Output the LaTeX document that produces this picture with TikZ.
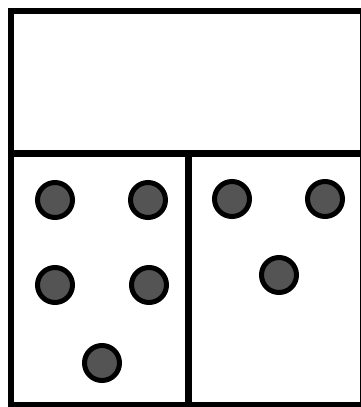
\documentclass[tikz,border=0pt]{standalone}
\definecolor{dotgray}{RGB}{84,84,84}
\begin{document}
\begin{tikzpicture}[x=1pt,y=-1pt,
  frame/.style={draw=black,line width=6.5pt},
  dot/.style={circle,draw=black,fill=dotgray,line width=5pt,minimum size=35pt,inner sep=0pt}]
\useasboundingbox (0,0) rectangle (361,407);
\clip (0,0) rectangle (361,407);
\fill[white] (0,0) rectangle (361,407);
\draw[frame] (11,11) rectangle (363.5,405);
\draw[frame] (11,153.5) -- (363.5,153.5);
\draw[frame] (188.5,153.5) -- (188.5,405);
\node[dot] (d1) at (55,200) {};
\node[dot] (d2) at (148,200) {};
\node[dot] (d3) at (55,285) {};
\node[dot] (d4) at (149,285) {};
\node[dot] (d5) at (102,363) {};
\node[dot] (d6) at (232,199) {};
\node[dot] (d7) at (325,199) {};
\node[dot] (d8) at (279,275) {};
\end{tikzpicture}
\end{document}
